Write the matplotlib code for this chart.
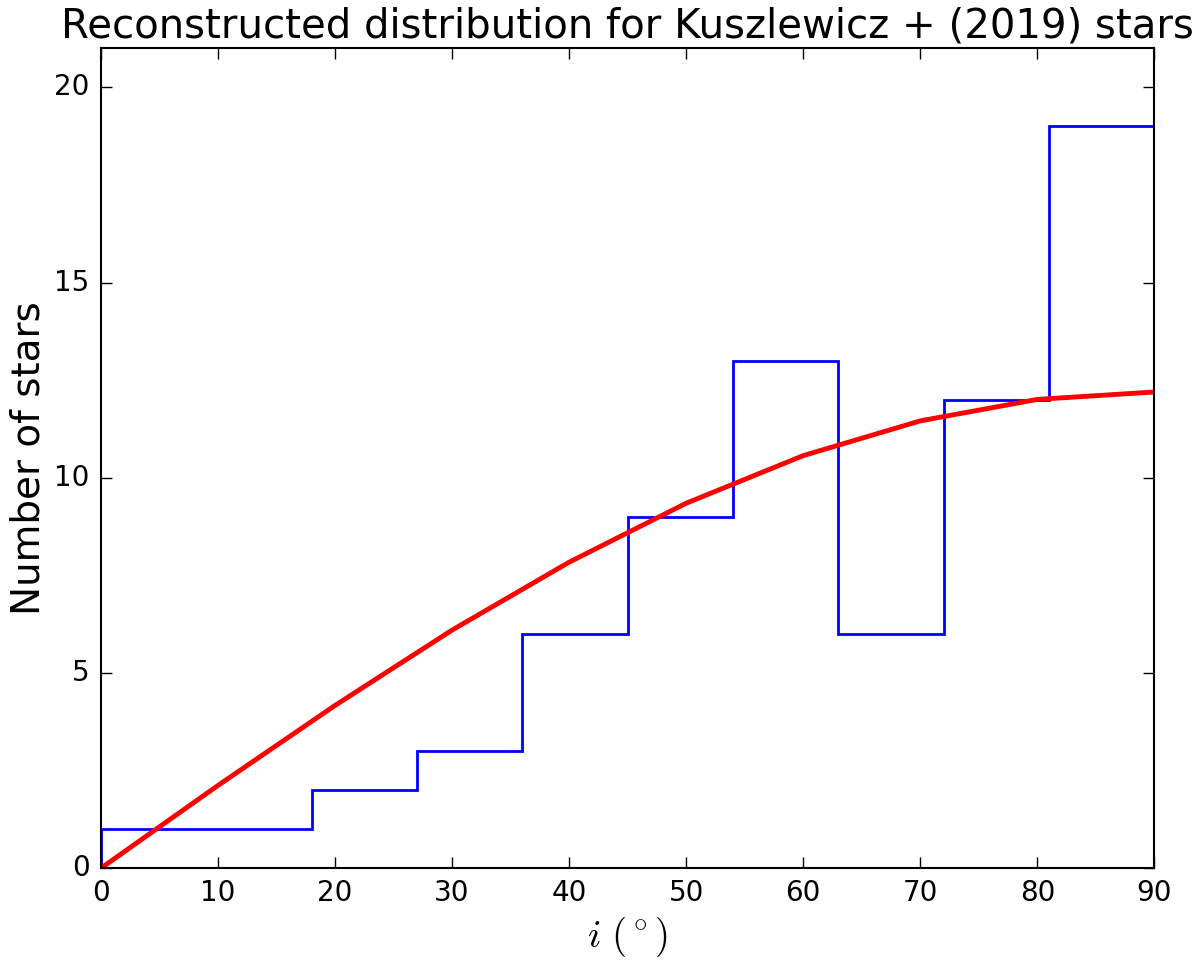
import matplotlib
matplotlib.use("Agg")
from matplotlib import pyplot as plt

# histogram of inclinations (bin edges in degrees, counts per bin)
bin_edges = [0, 9, 18, 27, 36, 45, 54, 63, 72, 81, 90]
counts = [1, 1, 2, 3, 6, 9, 13, 6, 12, 19]

# isotropic expectation curve
model_i = [0, 10, 20, 30, 40, 50, 60, 70, 80, 90]
model_n = [0, 2.12, 4.17, 6.1, 7.84, 9.35, 10.57, 11.46, 12.01, 12.2]

plt.style.use("classic")
fig = plt.figure(figsize=(12, 9.68), dpi=100, facecolor="white")
ax = fig.add_axes([0.084, 0.103, 0.878, 0.847])

ax.hist(bin_edges[:-1], bins=bin_edges, weights=counts, histtype="step",
        color="b", linewidth=2)
ax.plot(model_i, model_n, color="r", linewidth=3.5)

ax.set_xlim(0, 90)
ax.set_ylim(0, 21)
ax.set_xticks(range(0, 91, 10))
ax.set_yticks([0, 5, 10, 15, 20])
ax.tick_params(labelsize=20, length=8, width=1, pad=8)
for s in ax.spines.values():
    s.set_linewidth(1.5)

ax.set_title("Reconstructed distribution for Kuszlewicz + (2019) stars", fontsize=29, y=1.005)
ax.set_xlabel(r"$i\ (^\circ)$", fontsize=28)
ax.set_ylabel("Number of stars", fontsize=28)

fig.savefig("out.png", dpi=100, facecolor="white")
